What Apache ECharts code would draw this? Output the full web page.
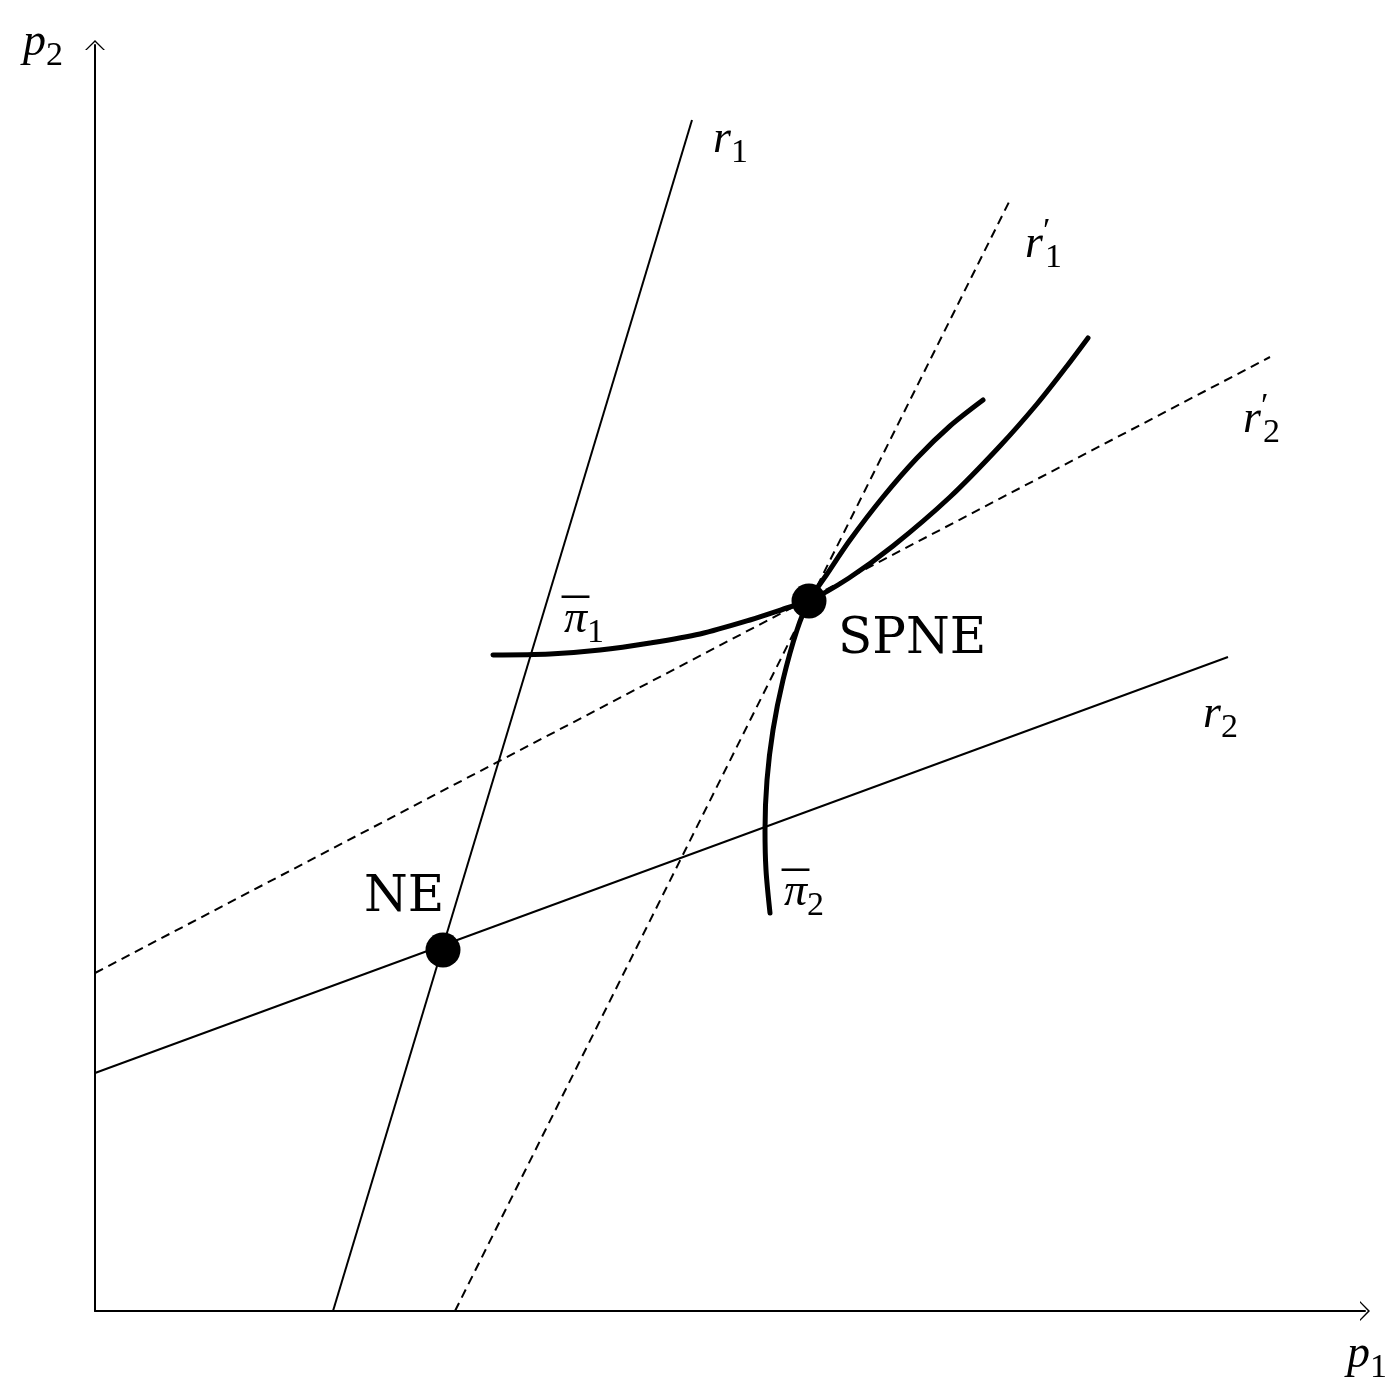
<!DOCTYPE html>
<html>
<head>
<meta charset="utf-8">
<script src="https://cdn.jsdelivr.net/npm/echarts@6/dist/echarts.min.js"></script>
<style>
  html, body { margin: 0; padding: 0; background: #fff; }
  #chart { width: 1398px; height: 1388px; }
</style>
</head>
<body>
<div id="chart"></div>
<script>
// best-response lines, [p1, p2]
var r1 = [[2.38, 0], [5.97, 11.91]]
var r1p = [[3.60, 0], [9.15, 11.11]]
var r2 = [[0, 2.38], [11.33, 6.54]]
var r2p = [[0, 3.38], [11.75, 9.54]]
// iso-profit curves
var pi1 = [[3.98, 6.56], [4.55, 6.57], [5.05, 6.61], [5.55, 6.68], [6.05, 6.77], [6.55, 6.91], [6.95, 7.04], [7.14, 7.10],
  [7.54, 7.33], [7.98, 7.65], [8.55, 8.14], [9.05, 8.65], [9.42, 9.07], [9.72, 9.45], [9.93, 9.73]]
var pi2 = [[6.75, 3.98], [6.71, 4.41], [6.70, 4.81], [6.72, 5.31], [6.78, 5.81], [6.88, 6.31], [7.02, 6.81], [7.14, 7.10],
  [7.32, 7.37], [7.55, 7.71], [7.88, 8.14], [8.22, 8.53], [8.55, 8.85], [8.88, 9.11]]
// equilibria
var equilibria = [[3.48, 3.61], [7.14, 7.10]]
// text labels: [p1, p2, text]
var labels = [
  [6.18, 11.71, '{it|r}{sub|1}'],
  [9.30, 10.66, '{it|r}{pr|′}{sub|1}'],
  [11.48, 8.91, '{it|r}{pr|′}{sub|2}'],
  [11.08, 5.96, '{it|r}{sub|2}'],
  [7.43, 6.71, '{rm|SPNE}'],
  [2.69, 4.13, '{rm|NE}'],
  [4.67, 6.91, '{ov|¯}{it|π}{sub|1}'],
  [6.87, 4.18, '{ov|¯}{it|π}{sub|2}']
]

var SERIF = '"Liberation Serif", "DejaVu Serif", serif'
var rich = {
  it: { fontFamily: SERIF, fontStyle: 'italic', fontSize: 46, lineHeight: 46, color: '#000' },
  sub: { fontFamily: SERIF, fontSize: 34, lineHeight: 60, verticalAlign: 'bottom', color: '#000' },
  pr: { fontFamily: SERIF, fontSize: 34, lineHeight: 30, verticalAlign: 'top', width: 2, color: '#000' },
  ov: { fontFamily: SERIF, fontSize: 54, lineHeight: 54, verticalAlign: 'bottom', width: 2, color: '#000' },
  rm: { fontFamily: '"DejaVu Serif", serif', fontSize: 50, lineHeight: 56, color: '#000' }
}
var arrow = 'path://M0,10 L10,0 L20,10 L18.2,10 L10,2.1 L1.8,10 Z'

var chart = echarts.init(document.getElementById('chart'))

function seg (data, dashed) {
  return {
    type: 'line',
    data: data,
    symbol: 'none',
    silent: true,
    lineStyle: { color: '#000', width: 2, type: dashed ? [9, 6] : 'solid' },
    z: 2
  }
}
function curve (data) {
  return {
    type: 'line',
    data: data,
    smooth: 0.3,
    symbol: 'none',
    silent: true,
    lineStyle: { color: '#000', width: 5, cap: 'round' },
    z: 3
  }
}

chart.setOption({
  animation: false,
  backgroundColor: '#fff',
  grid: { left: 95, right: 33, top: 45, bottom: 77 },
  xAxis: {
    type: 'value',
    min: 0,
    max: 12.7,
    name: '{it|p}{sub|1}',
    nameLocation: 'end',
    nameGap: 22,
    nameTextStyle: { rich: rich, align: 'right', verticalAlign: 'top', padding: [14, 0, 0, 0] },
    axisLine: { lineStyle: { color: '#000', width: 2 }, symbol: ['none', arrow], symbolSize: [20, 10] },
    axisTick: { show: false },
    axisLabel: { show: false },
    splitLine: { show: false }
  },
  yAxis: {
    type: 'value',
    min: 0,
    max: 12.66,
    name: '{it|p}{sub|2}',
    nameLocation: 'end',
    nameGap: 2,
    nameTextStyle: { rich: rich, align: 'right', verticalAlign: 'middle', padding: [0, 32, 0, 0] },
    axisLine: { lineStyle: { color: '#000', width: 2 }, symbol: ['none', arrow], symbolSize: [20, 10] },
    axisTick: { show: false },
    axisLabel: { show: false },
    splitLine: { show: false }
  },
  series: [
    seg(r1, false),
    seg(r1p, true),
    seg(r2, false),
    seg(r2p, true),
    curve(pi1),
    curve(pi2),
    {
      type: 'scatter',
      data: equilibria,
      symbol: 'circle',
      symbolSize: 35,
      itemStyle: { color: '#000', opacity: 1 },
      silent: true,
      z: 5
    },
    {
      type: 'scatter',
      data: labels,
      symbolSize: 0,
      clip: false,
      silent: true,
      itemStyle: { opacity: 1 },
      label: {
        show: true,
        color: '#000',
        position: [0, 0],
        align: 'left',
        verticalAlign: 'middle',
        rich: rich,
        formatter: function (p) { return p.data[2] }
      },
      z: 6
    }
  ]
})
</script>
</body>
</html>
